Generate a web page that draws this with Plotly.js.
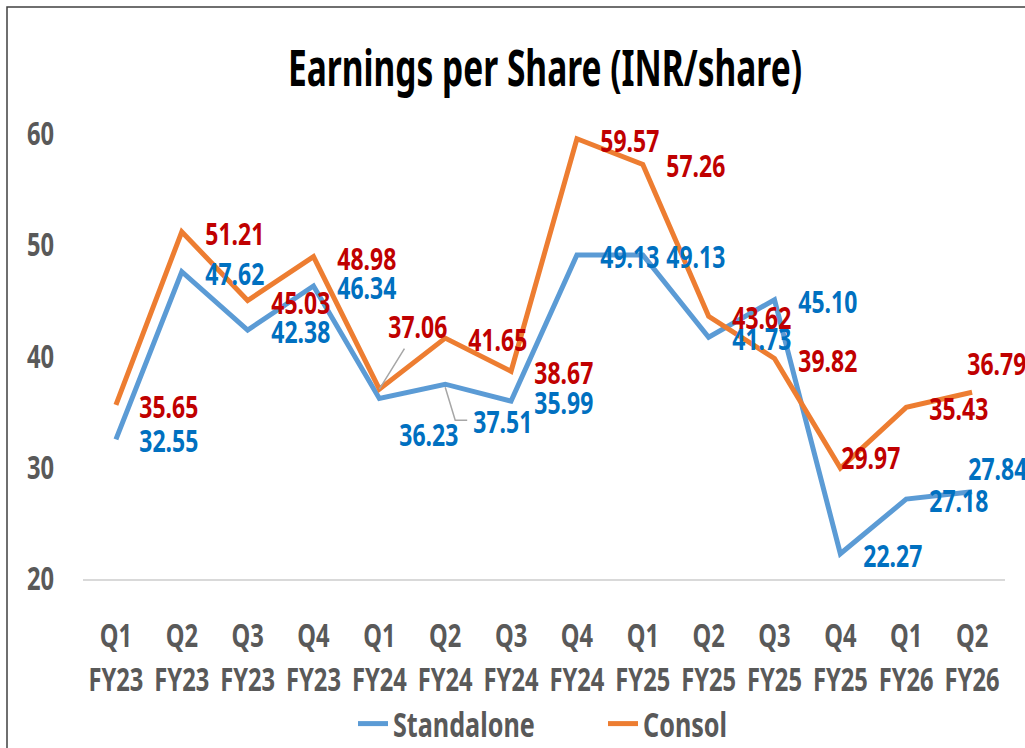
<!DOCTYPE html>
<html>
<head>
<meta charset="utf-8">
<script src="https://cdn.plot.ly/plotly-3.0.1.min.js"></script>
<style>
  html, body { margin: 0; padding: 0; background: #ffffff; }
  #chart { width: 1025px; height: 748px; }
</style>
</head>
<body>
<div id="chart"></div>
<script>
// ---- Data ----
const quarters = ['Q1', 'Q2', 'Q3', 'Q4', 'Q1', 'Q2', 'Q3', 'Q4', 'Q1', 'Q2', 'Q3', 'Q4', 'Q1', 'Q2'];
const fiscalYears = ['FY23', 'FY23', 'FY23', 'FY23', 'FY24', 'FY24', 'FY24', 'FY24', 'FY25', 'FY25', 'FY25', 'FY25', 'FY26', 'FY26'];
const categories = quarters.map((q, i) => q + ' ' + fiscalYears[i]);
const standalone = [32.55, 47.62, 42.38, 46.34, 36.23, 37.51, 35.99, 49.13, 49.13, 41.73, 45.10, 22.27, 27.18, 27.84];
const consol = [35.65, 51.21, 45.03, 48.98, 37.06, 41.65, 38.67, 59.57, 57.26, 43.62, 39.82, 29.97, 35.43, 36.79];
const seriesNames = ['Standalone', 'Consol'];

// ---- Styling / label placement (not data) ----
const FONT = '"Noto Sans", "Open Sans", sans-serif';
const GRAY = '#595959';
const lineColors = ['#5B9BD5', '#ED7D31'];
const labelColors = ['#0070C0', '#C00000'];
const defaultOffset = { dx: 53, dy: 1 };
const labelOffsets = [
  { 4: { dx: 50, dy: 36 }, 5: { dx: 58, dy: 37 }, 13: { dx: 26, dy: -24 } },
  { 4: { dx: 39, dy: -63, leader: true }, 11: { dx: 31, dy: -11 }, 13: { dx: 25, dy: -29 } }
];

const seriesValues = [standalone, consol];

const traces = seriesValues.map((vals, s) => ({
  type: 'scatter',
  mode: 'lines',
  name: seriesNames[s],
  x: categories,
  y: vals,
  line: { color: lineColors[s], width: 5 },
  cliponaxis: false,
  hoverinfo: 'x+y+name'
}));
// invisible helper trace so the second (fiscal-year) category axis has categories
traces.push({
  type: 'scatter', mode: 'lines', x: categories, y: consol, xaxis: 'x2', yaxis: 'y',
  opacity: 0, line: { width: 0 }, showlegend: false, hoverinfo: 'skip'
});

const annotations = [];
seriesValues.forEach((vals, s) => {
  vals.forEach((v, i) => {
    const o = labelOffsets[s][i] || defaultOffset;
    const a = {
      x: categories[i], y: v, xref: 'x', yref: 'y',
      text: v.toFixed(2),
      font: { family: FONT, size: 31, color: labelColors[s], weight: 'bold' }
    };
    if (o.leader) {
      Object.assign(a, {
        showarrow: true, arrowhead: 0, arrowwidth: 1.5, arrowcolor: '#A6A6A6',
        axref: 'pixel', ayref: 'pixel', ax: o.dx, ay: o.dy, standoff: 0
      });
    } else {
      Object.assign(a, { showarrow: false, xshift: o.dx, yshift: -o.dy });
    }
    annotations.push(a);
  });
});

const W = 1025, H = 748;
const M = { l: 83, r: 20, t: 134, b: 169, autoexpand: false };
const plotW = W - M.l - M.r, plotH = H - M.t - M.b;
const px2paperX = p => (p - M.l) / plotW;
const px2paperY = p => (H - M.b - p) / plotH;

const shapes = [
  // elbow leader line for the Q2 FY24 standalone label
  {
    type: 'path', xref: 'x', yref: 'y', xsizemode: 'pixel', ysizemode: 'pixel',
    xanchor: categories[5], yanchor: standalone[5],
    path: 'M0,-3 L10,-36 L22,-36',
    line: { color: '#A6A6A6', width: 1.5 }
  },
  // chart frame
  {
    type: 'rect', xref: 'paper', yref: 'paper', layer: 'above',
    x0: px2paperX(7), x1: px2paperX(1200), y0: px2paperY(900), y1: px2paperY(7),
    line: { color: '#404040', width: 1.5 }, fillcolor: 'rgba(0,0,0,0)'
  }
];

const layout = {
  width: W, height: H,
  margin: M,
  paper_bgcolor: '#ffffff', plot_bgcolor: '#ffffff',
  showlegend: true,
  title: {
    text: 'Earnings per Share (INR/share)',
    font: { family: FONT, size: 50, color: '#000000', weight: 'bold' },
    xref: 'container', x: 545 / W, xanchor: 'center',
    yref: 'container', y: 1 - 68 / H, yanchor: 'middle'
  },
  xaxis: {
    type: 'category', range: [-0.5, categories.length - 0.5],
    showgrid: false, zeroline: false, automargin: false,
    showline: true, linecolor: '#D9D9D9', linewidth: 1.5,
    ticks: '', tickmode: 'array', tickvals: categories, ticktext: quarters,
    tickangle: 0, ticklabelstandoff: 28,
    tickfont: { family: FONT, size: 32, color: GRAY, weight: 'bold' }
  },
  xaxis2: {
    type: 'category', overlaying: 'x', anchor: 'y', side: 'bottom',
    range: [-0.5, categories.length - 0.5], automargin: false,
    showgrid: false, zeroline: false, showline: false,
    ticks: '', tickmode: 'array', tickvals: categories, ticktext: fiscalYears,
    tickangle: 0, ticklabelstandoff: 79,
    tickfont: { family: FONT, size: 32, color: GRAY, weight: 'bold' }
  },
  yaxis: {
    range: [20, 60], dtick: 10, tick0: 20, automargin: false,
    showgrid: false, zeroline: false, showline: false,
    ticks: '', ticklabelstandoff: 28,
    tickfont: { family: FONT, size: 32, color: GRAY, weight: 'bold' }
  },
  legend: {
    orientation: 'h', x: px2paperX(353), xanchor: 'left',
    y: px2paperY(724), yanchor: 'middle',
    entrywidthmode: 'pixels', entrywidth: 205,
    font: { family: FONT, size: 34, color: GRAY, weight: 'bold' },
    bgcolor: 'rgba(0,0,0,0)'
  },
  annotations: annotations,
  shapes: shapes
};

// Horizontally condense the bold text (the reference uses a tall, narrow face)
function condense(gd) {
  gd.querySelectorAll('svg text').forEach(t => {
    const isTitle = !!t.closest('.g-gtitle');
    const f = isTitle ? 0.67 : 0.74;
    const len = t.getComputedTextLength();
    if (len > 0) {
      t.setAttribute('textLength', (len * f).toFixed(2));
      t.setAttribute('lengthAdjust', 'spacingAndGlyphs');
    }
  });
}

Plotly.newPlot('chart', traces, layout, { displayModeBar: false, staticPlot: true })
  .then(condense);
</script>
</body>
</html>
